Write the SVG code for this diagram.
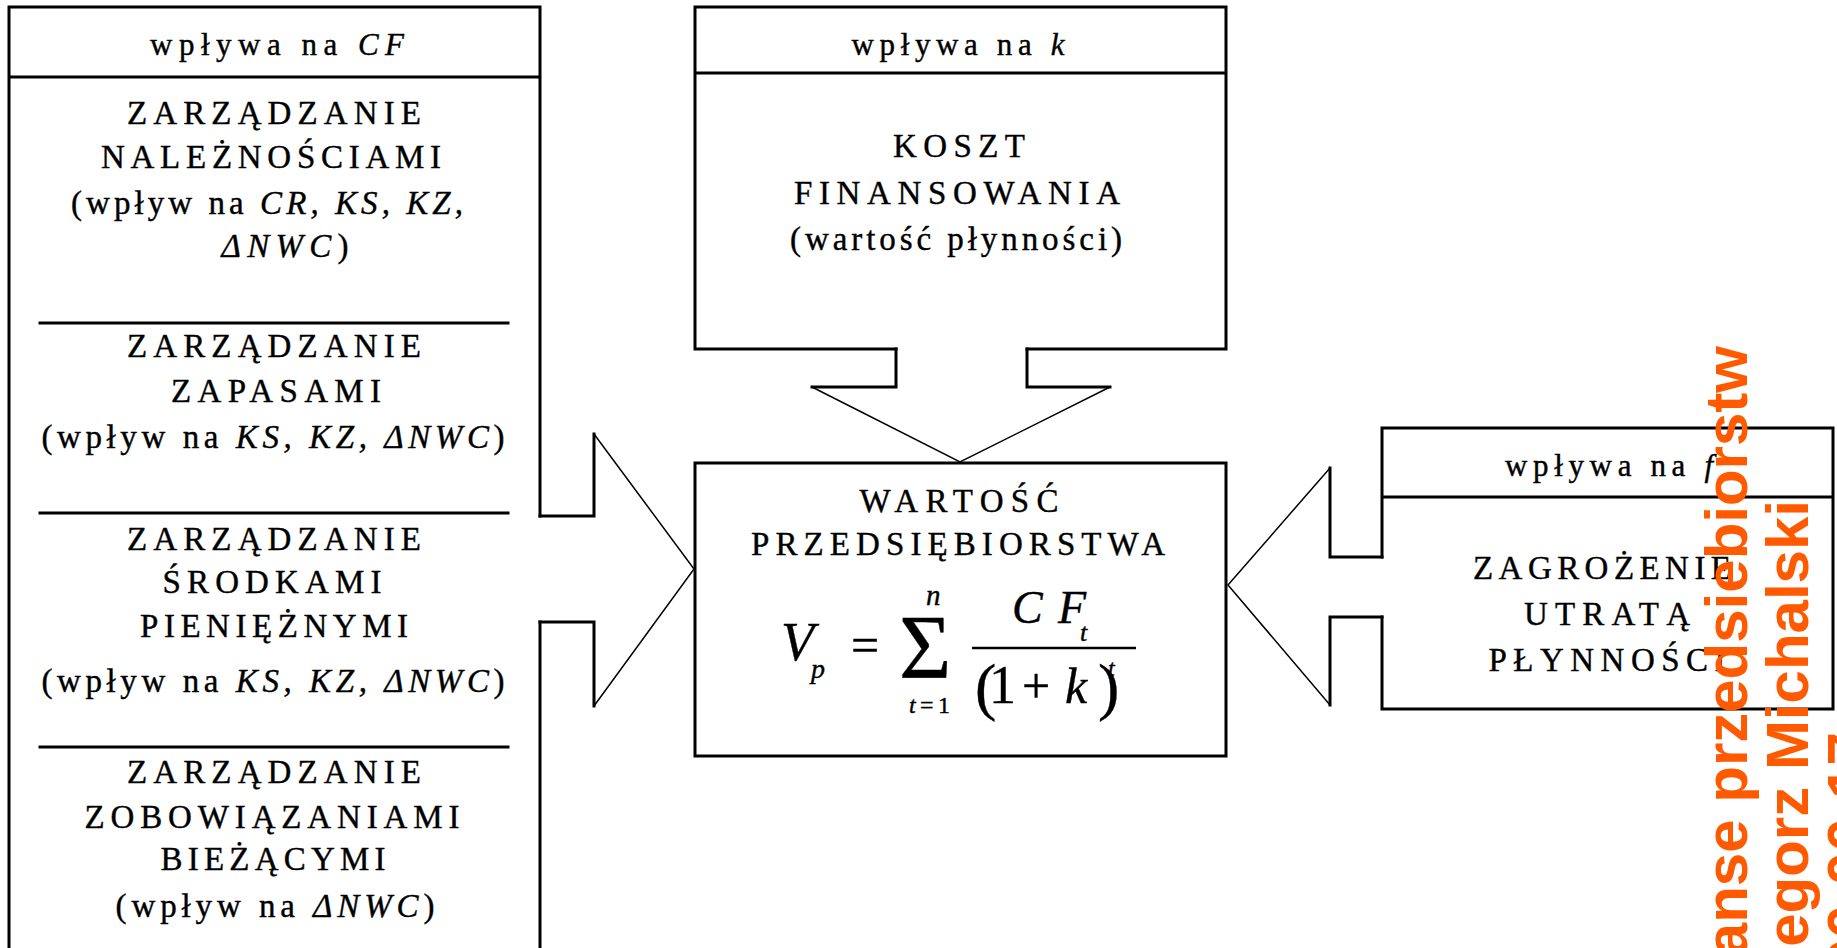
<svg xmlns="http://www.w3.org/2000/svg" width="1837" height="948" viewBox="0 0 1837 948">
<style>
.box{fill:none;stroke:#000;stroke-width:3;stroke-linejoin:miter;stroke-linecap:square}
.wing{fill:none;stroke:#000;stroke-width:1.5}
.t{font-family:"Liberation Serif","Times New Roman",serif;font-size:33px;fill:#000;stroke:#000;stroke-width:0.4;text-anchor:middle}
.h{font-family:"Liberation Serif","Times New Roman",serif;font-size:31px;fill:#000;stroke:#000;stroke-width:0.4;text-anchor:middle}
.i{font-style:italic}
.m{font-family:"Liberation Serif","Times New Roman",serif;fill:#000;stroke:#000;stroke-width:0.4}
.wm{font-family:"Liberation Sans",Arial,sans-serif;font-weight:bold;font-size:60px;fill:#FF5A00;text-anchor:end}
</style>
<rect width="1837" height="948" fill="#fff"/>

<g id="node-cf">
<path class="box" d="M9,950 V7 H540 V516 M540,622 V950 M9,77 H540"/>
<path class="box" d="M40,323 H508 M40,513 H508 M40,747 H508" stroke-linecap="butt"/>
<text class="h" x="277" y="55" textLength="254">wpływa na <tspan class="i">CF</tspan></text>
<text class="t" x="274" y="124" textLength="294">ZARZĄDZANIE</text>
<text class="t" x="271" y="168" textLength="340">NALEŻNOŚCIAMI</text>
<text class="t" x="267" y="214" textLength="392">(wpływ na <tspan class="i">CR, KS, KZ,</tspan></text>
<text class="t" x="285" y="257" textLength="127"><tspan class="i">ΔNWC</tspan>)</text>
<text class="t" x="274" y="357" textLength="294">ZARZĄDZANIE</text>
<text class="t" x="276" y="402" textLength="210">ZAPASAMI</text>
<text class="t" x="273" y="448" textLength="463">(wpływ na <tspan class="i">KS, KZ, ΔNWC</tspan>)</text>
<text class="t" x="274" y="550" textLength="294">ZARZĄDZANIE</text>
<text class="t" x="272" y="593" textLength="219">ŚRODKAMI</text>
<text class="t" x="274" y="637" textLength="268">PIENIĘŻNYMI</text>
<text class="t" x="273" y="692" textLength="463">(wpływ na <tspan class="i">KS, KZ, ΔNWC</tspan>)</text>
<text class="t" x="274" y="783" textLength="294">ZARZĄDZANIE</text>
<text class="t" x="272" y="828" textLength="375">ZOBOWIĄZANIAMI</text>
<text class="t" x="273" y="870" textLength="225">BIEŻĄCYMI</text>
<text class="t" x="275" y="917" textLength="319">(wpływ na <tspan class="i">ΔNWC</tspan>)</text>
</g>

<g id="node-k">
<path class="box" d="M896,349 H695 V7 H1226 V349 H1027 M695,73 H1226"/>
<text class="h" x="958" y="55" textLength="213">wpływa na <tspan class="i">k</tspan></text>
<text class="t" x="959" y="157" textLength="132">KOSZT</text>
<text class="t" x="957" y="204" textLength="326">FINANSOWANIA</text>
<text class="t" x="956" y="250" textLength="332">(wartość płynności)</text>
</g>

<g id="node-value">
<rect class="box" x="695" y="463" width="531" height="293"/>
<text class="t" x="959" y="512" textLength="199">WARTOŚĆ</text>
<text class="t" x="958" y="555" textLength="414">PRZEDSIĘBIORSTWA</text>
<text class="m i" x="781" y="660" font-size="54">V</text>
<text class="m i" x="811" y="678" font-size="28">p</text>
<text class="m" x="851" y="662" font-size="50">=</text>
<text class="m" x="899" y="678" font-size="90">Σ</text>
<text class="m i" x="926" y="605" font-size="29">n</text>
<text class="m" x="909" y="713" font-size="24" textLength="41"><tspan class="i">t</tspan>=1</text>
<line x1="972" y1="648" x2="1136" y2="648" stroke="#000" stroke-width="2.5"/>
<text class="m i" x="1012" y="623" font-size="46" textLength="74">CF</text>
<text class="m i" x="1080" y="641" font-size="26">t</text>
<text class="m" x="975" y="708" font-size="64">(</text>
<text class="m" x="989" y="703" font-size="54">1</text>
<text class="m" x="1022" y="703" font-size="50">+</text>
<text class="m i" x="1065" y="703" font-size="50">k</text>
<text class="m" x="1098" y="708" font-size="64">)</text>
<text class="m i" x="1108" y="676" font-size="24">t</text>
</g>

<g id="node-f">
<path class="box" d="M1382,557 V428 H1833 V709 H1382 V617 M1382,497 H1833"/>
<text class="h" x="1609" y="476" textLength="208">wpływa na <tspan class="i">f</tspan></text>
<text class="t" x="1602" y="579" textLength="258">ZAGROŻENIE</text>
<text class="t" x="1607" y="625" textLength="166">UTRATĄ</text>
<text class="t" x="1607" y="671" textLength="237">PŁYNNOŚCI</text>
</g>

<g id="connectors">
<path class="box" d="M540,516 H594 V434 M594,706 V622 H540"/>
<path class="wing" d="M594,434 L694,569 L594,706"/>
<path class="box" d="M896,349 V387 H812 M1027,349 V387 H1110"/>
<path class="wing" d="M812,387 L960,462 L1110,387"/>
<path class="box" d="M1382,557 H1330 V468 M1330,705 V617 H1382"/>
<path class="wing" d="M1330,468 L1228,585 L1330,705"/>
</g>

<g id="watermark">
<text class="wm" transform="translate(1747,346) rotate(-90)">Finanse przedsiebiorstw</text>
<text class="wm" transform="translate(1808,500) rotate(-90)">Grzegorz Michalski</text>
<text class="wm" transform="translate(1869,732) rotate(-90)">2006-06-17</text>
</g>
</svg>
